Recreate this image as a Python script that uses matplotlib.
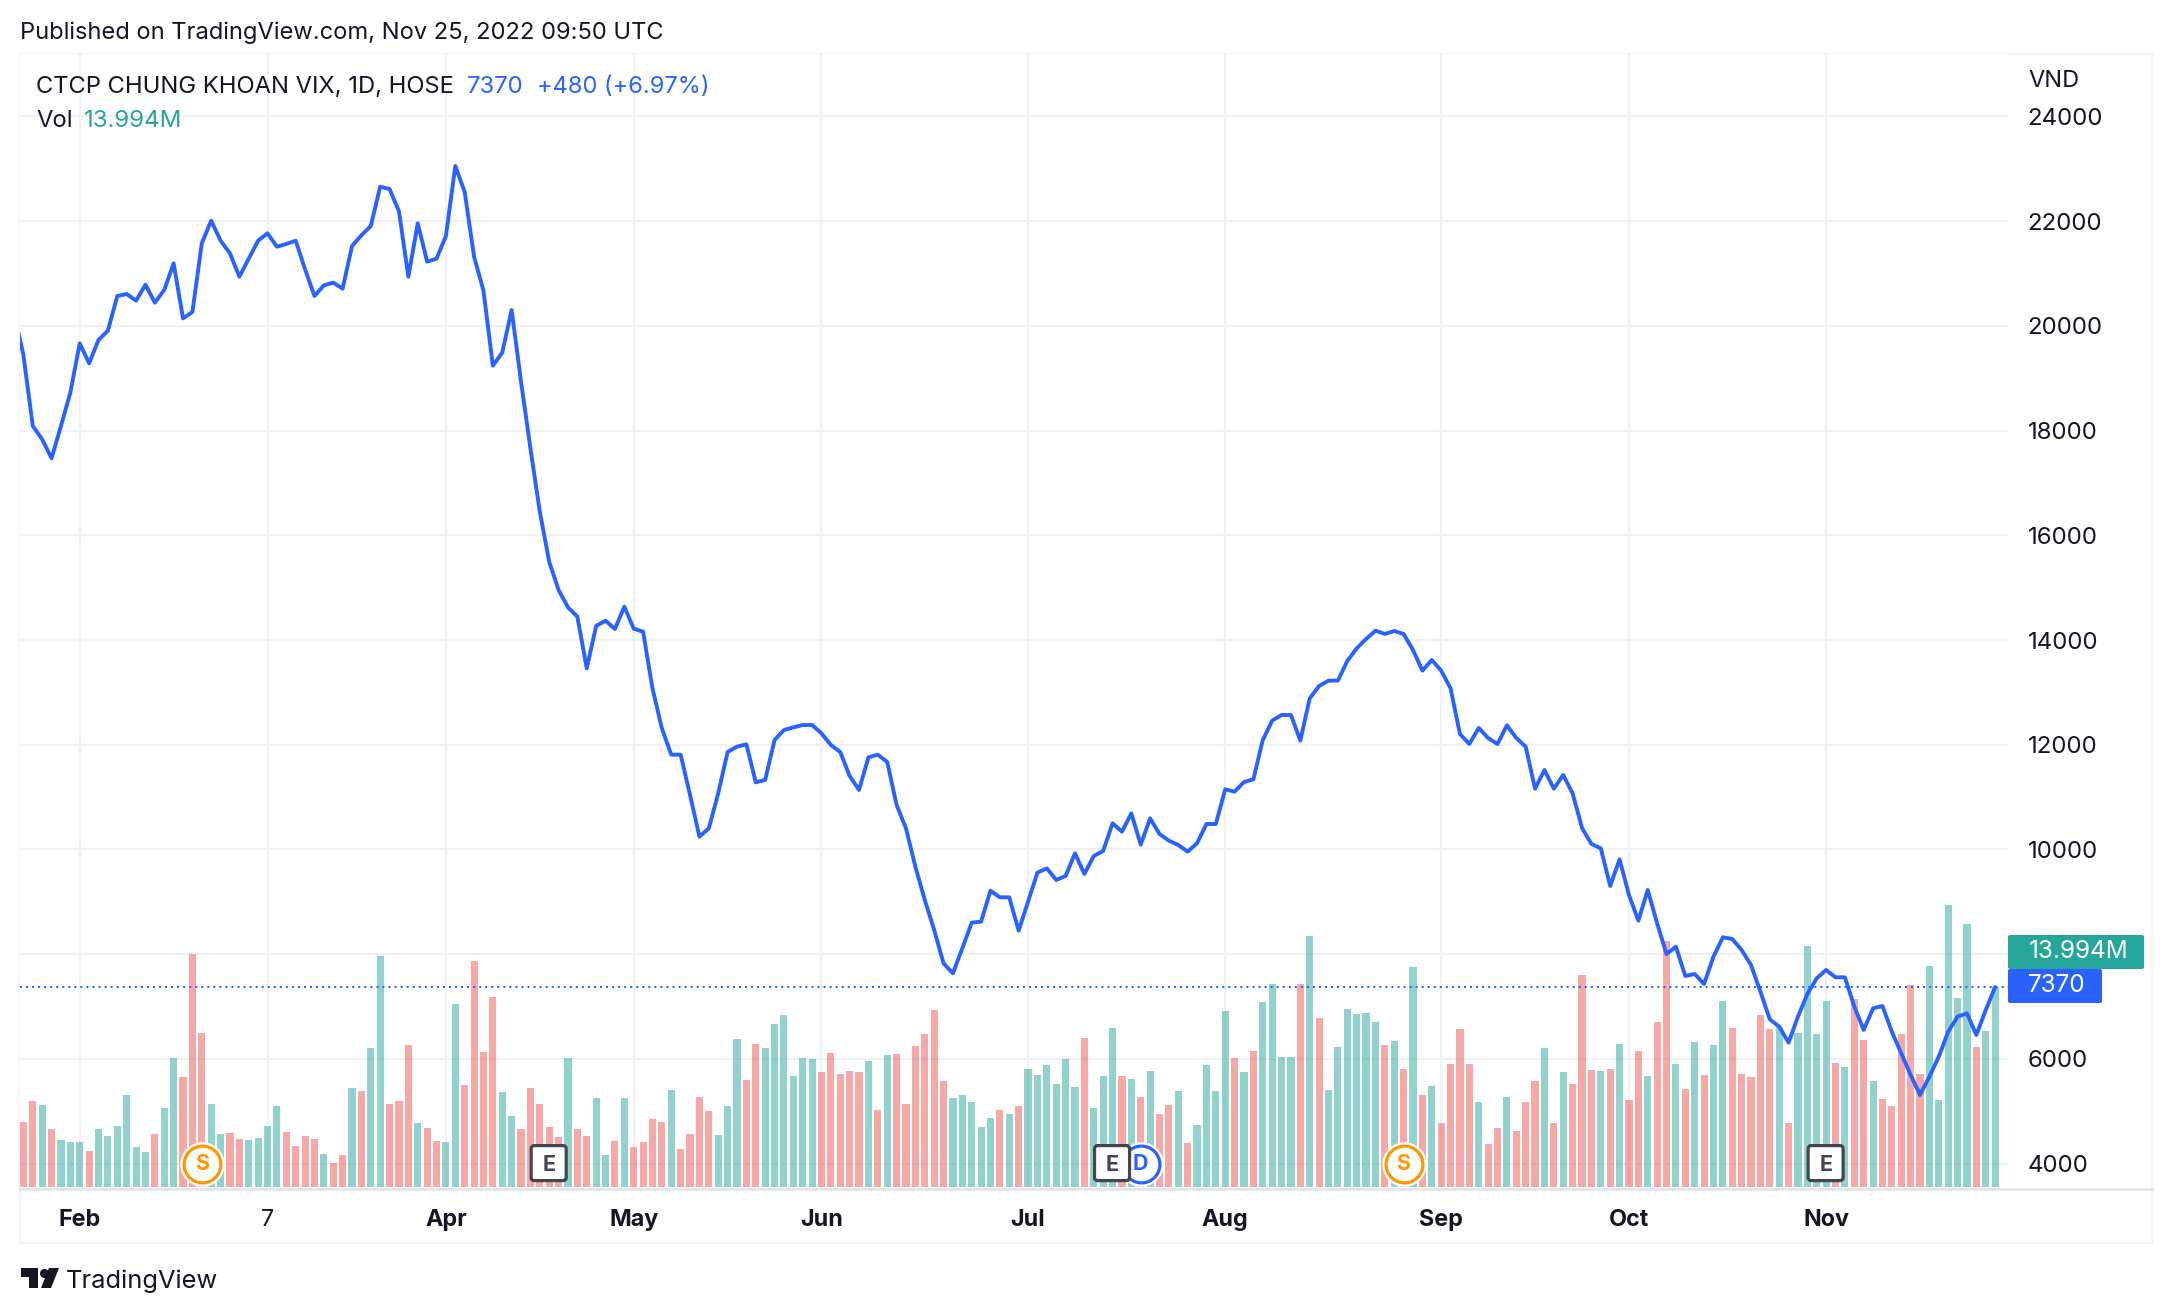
import matplotlib
matplotlib.use("Agg")
import matplotlib.pyplot as plt
from matplotlib.patches import FancyBboxPatch, Polygon, Rectangle
from matplotlib.transforms import IdentityTransform

plt.rcParams['font.family'] = ['Inter', 'DejaVu Sans']

# ---------- data ----------
# daily close, the first value lies just before the left edge of the pane
price = [20250,
 19443,18087,17833,17470,18087,18724,19666,19284,19730,19908,
 20570,20608,20481,20786,20443,20685,21194,20143,20264,21576,
 22009,21627,21385,20939,21283,21627,21767,21512,21563,21627,
 21079,20570,20774,20825,20710,21525,21729,21907,22658,22613,
 22187,20939,21958,21226,21283,21716,23053,22556,21321,20672,
 19239,19488,20303,18934,17661,16451,15496,14955,14624,14446,
 13459,14268,14370,14210,14637,14217,14159,13077,12313,11810,
 11810,11040,10244,10403,11072,11861,11963,12008,11282,11327,
 12090,12281,12332,12377,12377,12218,11995,11861,11403,11136,
 11760,11810,11670,10849,10403,9671,9035,8462,7825,7634,
 8112,8602,8621,9213,9086,9086,8449,9003,9557,9639,
 9417,9493,9926,9531,9875,9971,10499,10340,10690,10091,
 10594,10295,10168,10085,9958,10117,10486,10486,11148,11104,
 11288,11339,12090,12460,12568,12568,12078,12886,13122,13224,
 13224,13599,13841,14019,14178,14115,14172,14115,13809,13415,
 13618,13415,13077,12205,12014,12320,12128,12014,12370,12128,
 11963,11161,11517,11161,11422,11072,10410,10104,10021,9302,
 9811,9130,8640,9226,8589,8003,8143,7583,7621,7431,
 7952,8322,8290,8080,7793,7284,6756,6616,6310,6807,
 7239,7539,7698,7558,7558,6998,6552,6966,7010,6520,
 6106,5693,5310,5661,6043,6520,6807,6870,6456,6934,7370]

volume = [
 4.52,5.99,5.71,4.03,3.26,3.12,3.12,2.49,4.03,3.54,
 4.24,6.41,2.77,2.42,3.68,5.50,9.00,7.67,16.27,10.75,
 5.78,3.68,3.75,3.33,3.26,3.40,4.24,5.64,3.82,2.84,
 3.54,3.33,2.28,1.66,2.21,6.90,6.69,9.70,16.13,5.78,
 5.99,9.91,4.45,4.10,3.19,3.12,12.77,7.11,15.78,9.42,
 13.26,6.62,4.94,4.03,6.90,5.78,4.17,3.47,9.00,4.03,
 3.54,6.20,2.21,3.19,6.20,2.77,3.12,4.73,4.52,6.76,
 2.63,3.68,6.27,5.29,3.61,5.64,10.33,7.46,9.98,9.70,
 11.38,12.00,7.74,9.00,8.93,8.02,9.35,7.88,8.09,8.02,
 8.79,5.36,9.21,9.28,5.78,9.84,10.68,12.35,7.39,6.20,
 6.41,5.92,4.17,4.80,5.36,5.08,5.64,8.23,7.81,8.51,
 7.18,8.93,6.97,10.40,5.50,7.74,11.10,7.74,7.53,6.27,
 8.09,5.08,5.71,6.69,3.05,4.31,8.51,6.69,12.28,9.00,
 8.02,9.49,12.91,14.17,9.07,9.07,14.17,17.53,11.79,6.76,
 9.77,12.42,12.07,12.14,11.52,9.91,10.19,8.23,15.36,6.41,
 7.04,4.45,8.58,11.03,8.58,5.92,2.98,4.10,6.27,3.89,
 5.92,7.39,9.70,4.45,8.02,7.18,14.80,8.16,8.09,8.23,
 9.98,6.06,9.49,7.74,11.52,17.18,8.58,6.83,10.12,7.81,
 9.91,12.98,11.10,7.88,7.67,12.00,11.03,11.19,4.45,10.75,
 16.83,10.68,12.98,8.65,8.37,13.12,10.26,7.39,6.13,5.64,
 10.68,14.10,7.88,15.43,6.06,19.70,13.19,18.37,9.77,10.89,13.99]

vol_direction = ("rrgrgggrgg" "ggggrggrrr" "ggrrggggrr" "rrgrrgrggr"
                 "rrgrrggrrr" "rggrrrrrgr" "rggrgrrrrg" "rrrrgggrrg"
                 "gggggrrrrr" "grgrrrrrrg" "ggggrgrggg" "gggrgggrgr"
                 "grrgrggggr" "grggggrgrg" "gggggrgrgr" "grrrrgrrgr"
                 "rrgrgrrrgr" "grrgrrgrgr" "ggrrrrrgrg" "gggrgrrgrr"
                 "rrrgggggrg" "g")

month_ticks = [6, 26, 45, 65, 85, 107, 128, 151, 171, 192]
month_labels = ["Feb", "7", "Apr", "May", "Jun", "Jul", "Aug", "Sep", "Oct", "Nov"]
price_ticks = [4000, 6000, 8000, 10000, 12000, 14000, 16000, 18000, 20000, 22000, 24000]
price_tick_labels = ["4000", "6000", "", "10000", "12000", "14000", "16000", "18000", "20000", "22000", "24000"]

last_price = 7370
event_s = [19, 147]
event_e = [56, 116, 192]
event_d = [119]

# ---------- layout (reference pixels) ----------
W, H = 2172, 1314
BLUE, TEAL, INK = "#2962ff", "#26a69a", "#131722"
GRID, FRAME = "#f0f1f4", "#f0f3fa"
L, R, T, B = 20, 2008, 54, 1188

fig = plt.figure(figsize=(W / 100, H / 100), dpi=100, facecolor="white")
rect = [L / W, 1 - B / H, (R - L) / W, (B - T) / H]
ax_g = fig.add_axes(rect, zorder=0)                      # price scale and grid, under the bars
ax_v = fig.add_axes(rect, zorder=1, facecolor="none")    # volume
ax_p = fig.add_axes(rect, zorder=2, facecolor="none")    # price line

xlim = (-0.362, 211.37)
price_lim = (3534, 25192)
for a in (ax_g, ax_v, ax_p):
    a.set_xlim(*xlim)
    for s in a.spines.values():
        s.set_visible(False)
ax_g.set_ylim(*price_lim)
ax_p.set_ylim(*price_lim)
ax_v.set_ylim(-0.07, 79.2)


def fx(x):
    return x / W


def fy(y):
    return 1 - y / H


# frame and pane edge
fig.add_artist(Rectangle((fx(20), fy(1243)), (2152 - 20) / W, (1243 - 54) / H,
                         fill=False, ec=FRAME, lw=1.6, transform=fig.transFigure, zorder=0))
fig.add_artist(plt.Line2D([fx(20), fx(2152)], [fy(1188.5)] * 2, color="#e0e3eb", lw=1.8, zorder=0))

# grid and ticks
ax_g.set_axisbelow(True)
ax_g.set_xticks(month_ticks)
ax_g.set_xticklabels(month_labels, fontsize=16.8, color=INK, fontweight="bold")
ax_g.get_xticklabels()[1].set_fontweight("normal")
ax_g.tick_params(axis="x", length=0, pad=15)
ax_g.yaxis.tick_right()
ax_g.set_yticks(price_ticks)
ax_g.set_yticklabels(price_tick_labels, fontsize=17.3, color=INK)
ax_g.tick_params(axis="y", length=0, pad=14)
ax_g.grid(True, color=GRID, lw=1.6)

# volume
ax_v.set_xticks([])
ax_v.set_yticks([])
xs = list(range(len(volume)))
colors = [TEAL if d == "g" else "#ef5350" for d in vol_direction]
ax_v.bar(xs, volume, width=0.76, color=colors, alpha=0.5, linewidth=0, zorder=2)

# price
ax_p.set_xticks([])
ax_p.set_yticks([])
ax_p.plot(range(-1, len(price) - 1), price, color=BLUE, lw=2.8,
          solid_joinstyle="round", solid_capstyle="round", zorder=3)
ax_p.axhline(last_price, color=BLUE, lw=1.45, ls=(0, (1, 2)), zorder=2.5)


# event badges
def round_badge(i, letter, col):
    ax_p.plot([i], [4000], "o", ms=31, mfc="white", mec="white", zorder=5, clip_on=False)
    ax_p.plot([i], [4000], "o", ms=26.5, mfc="white", mec=col, mew=2.3, zorder=5.1, clip_on=False)
    ax_p.text(i, 4040, letter, color=col, fontsize=15.5, fontweight="bold",
              ha="center", va="center_baseline", zorder=5.2)


def square_badge(i, letter):
    cx, cy = ax_p.transData.transform((i, 4000))
    fig.add_artist(FancyBboxPatch((cx - 18, cy - 17), 35, 35, boxstyle="round,pad=0,rounding_size=3",
                                  fc="white", ec="#434651", lw=2.3, transform=IdentityTransform(), zorder=6))
    fig.text((cx - 0.5) / W, (cy + 1) / H, letter, color="#434651", fontsize=15.5, fontweight="bold",
             ha="center", va="center_baseline", zorder=6.2)


for i in event_d:
    round_badge(i, "D", BLUE)
for i in event_s:
    round_badge(i, "S", "#ff9800")
for i in event_e:
    square_badge(i, "E")

# last value labels
fig.add_artist(FancyBboxPatch((fx(2008), fy(969)), 136 / W, 34 / H,
                              boxstyle="round,pad=0,rounding_size=0.0012", fc=TEAL, ec="none",
                              transform=fig.transFigure, zorder=7))
fig.add_artist(FancyBboxPatch((fx(2008), fy(1003)), 94 / W, 34 / H,
                              boxstyle="round,pad=0,rounding_size=0.0012", fc=BLUE, ec="none",
                              transform=fig.transFigure, zorder=7))
fig.text(fx(2029), fy(951.5), "13.994M", color="white", fontsize=17.5, va="center", zorder=8)
fig.text(fx(2028), fy(985.5), "7370", color="white", fontsize=17.5, va="center", zorder=8)

# headers
fig.text(fx(20), fy(33), "Published on TradingView.com, Nov 25, 2022 09:50 UTC",
         color=INK, fontsize=17.05, va="center")
fig.text(fx(36), fy(87), "CTCP CHUNG KHOAN VIX, 1D, HOSE", color=INK, fontsize=17.1, va="center", zorder=9)
fig.text(fx(467), fy(87), "7370", color=BLUE, fontsize=17.2, va="center", zorder=9)
fig.text(fx(537), fy(87), "+480 (+6.97%)", color=BLUE, fontsize=17.0, va="center", zorder=9)
fig.text(fx(36), fy(121), "Vol", color=INK, fontsize=17.1, va="center", zorder=9)
fig.text(fx(84), fy(121), "13.994M", color=TEAL, fontsize=17.3, va="center", zorder=9)
fig.text(fx(2028), fy(81), "VND", color=INK, fontsize=17, va="center", zorder=9)

# footer logo
fig.add_artist(Polygon([(fx(20.5), fy(1268)), (fx(38), fy(1268)), (fx(38), fy(1288)), (fx(29), fy(1288)),
                        (fx(29), fy(1277)), (fx(20.5), fy(1277))], closed=True, fc=INK, ec="none",
                       transform=fig.transFigure))
fig.add_artist(Polygon([(fx(59), fy(1268)), (fx(51), fy(1288)), (fx(41), fy(1288)), (fx(49), fy(1268))],
                       closed=True, fc=INK, ec="none", transform=fig.transFigure))
fig.add_artist(plt.Line2D([fx(43.5)], [fy(1272.5)], marker="o", ms=6.5, mfc=INK, mec="none"))
fig.text(fx(66), fy(1281), "TradingView", color=INK, fontsize=18.3, va="center")

fig.savefig("out.png", dpi=100, facecolor="white")
